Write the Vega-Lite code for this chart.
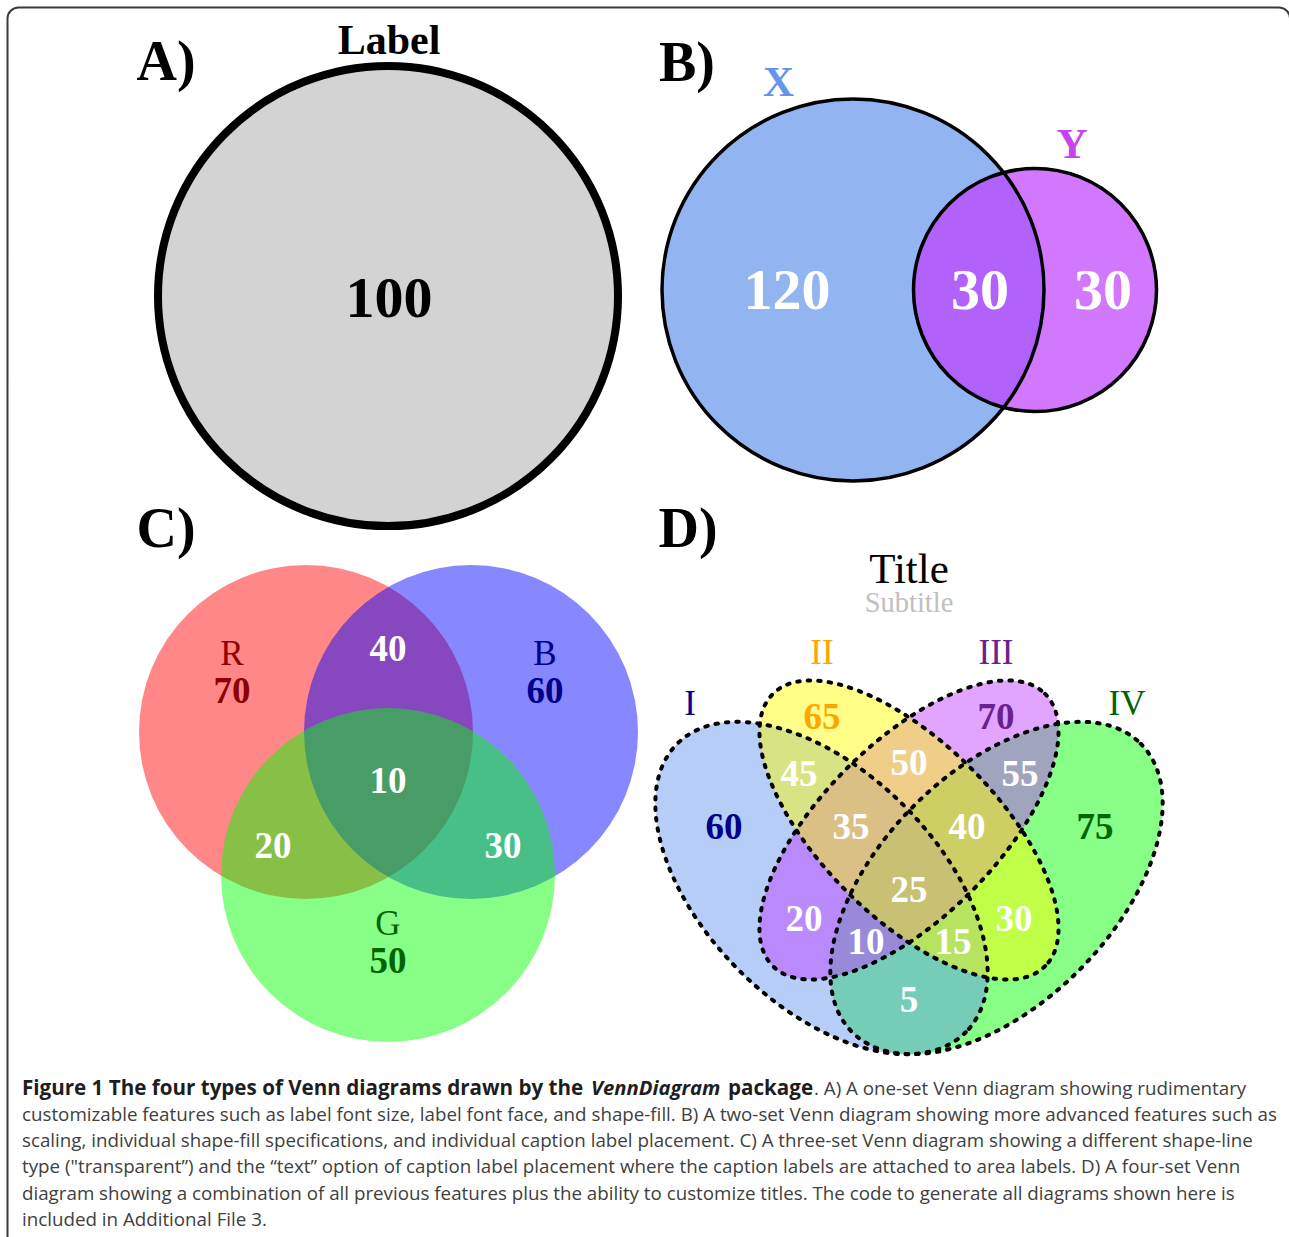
{
  "$schema": "https://vega.github.io/schema/vega-lite/v6.json",
  "width": 1289,
  "height": 1237,
  "autosize": {"type": "fit", "contains": "padding"},
  "padding": 0,
  "background": "white",
  "config": {"view": {"stroke": null}},
  "datasets": {
    "frame": [{"x": 7.5, "y": 7.5, "x2": 1290, "y2": 1262}],
    "circleA": [{"set": "A", "x": 388, "y": 296, "d": 460}],
    "circlesB": [
      {"set": "X", "x": 853, "y": 290, "d": 382},
      {"set": "Y", "x": 1035, "y": 290, "d": 243}
    ],
    "circlesC": [
      {"set": "R", "x": 306, "y": 732, "d": 334},
      {"set": "B", "x": 471, "y": 732, "d": 334},
      {"set": "G", "x": 388, "y": 875, "d": 334}
    ],
    "outerD": [
      {"set": "IV", "x": 996.5, "y": 888, "d": 408, "rot": -45},
      {"set": "I", "x": 821.5, "y": 888, "d": 408, "rot": 45}
    ],
    "innerD": [
      {"set": "III", "x": 909, "y": 830, "d": 385, "rot": -45},
      {"set": "II", "x": 909, "y": 830, "d": 385, "rot": 45}
    ],
    "letters": [
      {"t": "A)", "x": 166, "y": 80},
      {"t": "B)", "x": 687, "y": 81},
      {"t": "C)", "x": 166, "y": 547},
      {"t": "D)", "x": 688, "y": 547}
    ],
    "labelA": [{"t": "Label", "x": 389, "y": 54}],
    "countA": [{"t": "100", "x": 389, "y": 317}],
    "countB": [
      {"t": "120", "x": 787, "y": 309},
      {"t": "30", "x": 980, "y": 309},
      {"t": "30", "x": 1103, "y": 309}
    ],
    "catB": [
      {"t": "X", "set": "X", "x": 778.5, "y": 96},
      {"t": "Y", "set": "Y", "x": 1072, "y": 158}
    ],
    "catCD": [
      {"t": "R", "set": "R", "x": 232, "y": 665},
      {"t": "B", "set": "B", "x": 545, "y": 665},
      {"t": "G", "set": "G", "x": 388, "y": 935},
      {"t": "I", "set": "I", "x": 690, "y": 715},
      {"t": "II", "set": "II", "x": 822, "y": 664},
      {"t": "III", "set": "III", "x": 996, "y": 664},
      {"t": "IV", "set": "IV", "x": 1127, "y": 715}
    ],
    "countCD": [
      {"t": "70", "set": "R", "x": 232, "y": 702.5},
      {"t": "60", "set": "B", "x": 545, "y": 702.5},
      {"t": "50", "set": "G", "x": 388, "y": 972.5},
      {"t": "40", "set": "overlap", "x": 388, "y": 660.5},
      {"t": "10", "set": "overlap", "x": 388, "y": 792.5},
      {"t": "20", "set": "overlap", "x": 273, "y": 858},
      {"t": "30", "set": "overlap", "x": 503, "y": 858},
      {"t": "60", "set": "I", "x": 724, "y": 838.5},
      {"t": "65", "set": "II", "x": 822, "y": 728.5},
      {"t": "70", "set": "III", "x": 996, "y": 728.5},
      {"t": "75", "set": "IV", "x": 1095, "y": 838.5},
      {"t": "45", "set": "overlap", "x": 799, "y": 785.5},
      {"t": "50", "set": "overlap", "x": 909, "y": 774.5},
      {"t": "55", "set": "overlap", "x": 1020, "y": 785.5},
      {"t": "35", "set": "overlap", "x": 851, "y": 838.5},
      {"t": "40", "set": "overlap", "x": 967, "y": 838.5},
      {"t": "25", "set": "overlap", "x": 909, "y": 901.5},
      {"t": "20", "set": "overlap", "x": 804, "y": 930.5},
      {"t": "30", "set": "overlap", "x": 1014, "y": 930.5},
      {"t": "10", "set": "overlap", "x": 866, "y": 953.5},
      {"t": "15", "set": "overlap", "x": 953, "y": 953.5},
      {"t": "5", "set": "overlap", "x": 909, "y": 1011.5}
    ],
    "titleD": [{"t": "Title", "x": 909, "y": 583}],
    "subtitleD": [{"t": "Subtitle", "x": 909, "y": 612}],
    "capBold": [
      {"t": "Figure 1 The four types of Venn diagrams drawn by the", "x": 22, "y": 1095},
      {"t": "package", "x": 728, "y": 1095}
    ],
    "capItalic": [{"t": "VennDiagram", "x": 591, "y": 1095}],
    "capRegFirst": [{"t": ". A) A one-set Venn diagram showing rudimentary", "x": 814, "y": 1095}],
    "capReg": [
      {"t": "customizable features such as label font size, label font face, and shape-fill. B) A two-set Venn diagram showing more advanced features such as", "x": 22, "y": 1121},
      {"t": "scaling, individual shape-fill specifications, and individual caption label placement. C) A three-set Venn diagram showing a different shape-line", "x": 22, "y": 1147},
      {"t": "type (\"transparent”) and the “text” option of caption label placement where the caption labels are attached to area labels. D) A four-set Venn", "x": 22, "y": 1173},
      {"t": "diagram showing a combination of all previous features plus the ability to customize titles. The code to generate all diagrams shown here is", "x": 22, "y": 1200},
      {"t": "included in Additional File 3.", "x": 22, "y": 1226}
    ]
  },
  "encoding": {
    "x": {"field": "x", "type": "quantitative", "scale": {"domain": [0, 1289], "nice": false, "zero": false}, "axis": null},
    "y": {"field": "y", "type": "quantitative", "scale": {"domain": [0, 1237], "nice": false, "zero": false, "reverse": true}, "axis": null}
  },
  "layer": [
    {
      "data": {"name": "frame"},
      "mark": {"type": "rect", "clip": true, "fill": "transparent", "stroke": "#3a3a3a", "strokeWidth": 2, "cornerRadius": 11},
      "encoding": {"x2": {"field": "x2"}, "y2": {"field": "y2"}}
    },
    {
      "data": {"name": "circleA"},
      "mark": {"type": "point", "shape": "circle", "filled": true, "opacity": 1, "fillOpacity": 1, "stroke": "#000000", "strokeWidth": 8},
      "encoding": {
        "size": {"field": "d", "type": "quantitative", "scale": {"type": "pow", "exponent": 2, "domain": [0, 1000], "range": [0, 1000000]}, "legend": null},
        "fill": {"field": "set", "type": "nominal", "scale": {"domain": ["A", "X", "Y", "R", "B", "G", "I", "II", "III", "IV"], "range": ["#d3d3d3", "#6495ed", "#bf3eff", "#ff0000", "#0000ff", "#00ff00", "#6495ed", "#ffff00", "#bf3eff", "#00ff00"]}, "legend": null}
      }
    },
    {
      "data": {"name": "circlesB"},
      "mark": {"type": "point", "shape": "circle", "filled": true, "opacity": 1, "fillOpacity": 0.7, "strokeWidth": 0},
      "encoding": {
        "size": {"field": "d", "type": "quantitative", "legend": null},
        "fill": {"field": "set", "type": "nominal", "legend": null}
      }
    },
    {
      "data": {"name": "circlesB"},
      "mark": {"type": "point", "shape": "circle", "filled": false, "opacity": 1, "stroke": "#000000", "strokeWidth": 3.5},
      "encoding": {"size": {"field": "d", "type": "quantitative", "legend": null}}
    },
    {
      "data": {"name": "circlesC"},
      "mark": {"type": "point", "shape": "circle", "filled": true, "opacity": 1, "fillOpacity": 0.47, "strokeWidth": 0},
      "encoding": {
        "size": {"field": "d", "type": "quantitative", "legend": null},
        "fill": {"field": "set", "type": "nominal", "legend": null}
      }
    },
    {
      "data": {"name": "outerD"},
      "mark": {"type": "point", "shape": "M1,0C1,0.3156,0.5523,0.5714,0,0.5714C-0.5523,0.5714,-1,0.3156,-1,0C-1,-0.3156,-0.5523,-0.5714,0,-0.5714C0.5523,-0.5714,1,-0.3156,1,0Z", "filled": true, "opacity": 1, "fillOpacity": 0.47, "strokeWidth": 0},
      "encoding": {
        "size": {"field": "d", "type": "quantitative", "legend": null},
        "angle": {"field": "rot", "type": "quantitative", "scale": null},
        "fill": {"field": "set", "type": "nominal", "legend": null}
      }
    },
    {
      "data": {"name": "innerD"},
      "mark": {"type": "point", "shape": "M1,0C1,0.251,0.5523,0.4545,0,0.4545C-0.5523,0.4545,-1,0.251,-1,0C-1,-0.251,-0.5523,-0.4545,0,-0.4545C0.5523,-0.4545,1,-0.251,1,0Z", "filled": true, "opacity": 1, "fillOpacity": 0.47, "strokeWidth": 0},
      "encoding": {
        "size": {"field": "d", "type": "quantitative", "legend": null},
        "angle": {"field": "rot", "type": "quantitative", "scale": null},
        "fill": {"field": "set", "type": "nominal", "legend": null}
      }
    },
    {
      "data": {"name": "outerD"},
      "mark": {"type": "point", "shape": "M1,0C1,0.3156,0.5523,0.5714,0,0.5714C-0.5523,0.5714,-1,0.3156,-1,0C-1,-0.3156,-0.5523,-0.5714,0,-0.5714C0.5523,-0.5714,1,-0.3156,1,0Z", "filled": false, "opacity": 1, "stroke": "#000000", "strokeWidth": 4, "strokeDash": [2.5, 8], "strokeCap": "round"},
      "encoding": {
        "size": {"field": "d", "type": "quantitative", "legend": null},
        "angle": {"field": "rot", "type": "quantitative", "scale": null}
      }
    },
    {
      "data": {"name": "innerD"},
      "mark": {"type": "point", "shape": "M1,0C1,0.251,0.5523,0.4545,0,0.4545C-0.5523,0.4545,-1,0.251,-1,0C-1,-0.251,-0.5523,-0.4545,0,-0.4545C0.5523,-0.4545,1,-0.251,1,0Z", "filled": false, "opacity": 1, "stroke": "#000000", "strokeWidth": 4, "strokeDash": [2.5, 8], "strokeCap": "round"},
      "encoding": {
        "size": {"field": "d", "type": "quantitative", "legend": null},
        "angle": {"field": "rot", "type": "quantitative", "scale": null}
      }
    },
    {
      "data": {"name": "letters"},
      "mark": {"type": "text", "font": "Liberation Serif", "fontWeight": "bold", "fontSize": 56, "align": "center", "baseline": "alphabetic", "color": "#000000"},
      "encoding": {"text": {"field": "t"}}
    },
    {
      "data": {"name": "labelA"},
      "mark": {"type": "text", "font": "Liberation Serif", "fontWeight": "bold", "fontSize": 42, "align": "center", "baseline": "alphabetic", "color": "#000000"},
      "encoding": {"text": {"field": "t"}}
    },
    {
      "data": {"name": "countA"},
      "mark": {"type": "text", "font": "Liberation Serif", "fontWeight": "bold", "fontSize": 58, "align": "center", "baseline": "alphabetic", "color": "#000000"},
      "encoding": {"text": {"field": "t"}}
    },
    {
      "data": {"name": "countB"},
      "mark": {"type": "text", "font": "Liberation Serif", "fontWeight": "bold", "fontSize": 58, "align": "center", "baseline": "alphabetic", "color": "#ffffff"},
      "encoding": {"text": {"field": "t"}}
    },
    {
      "data": {"name": "catB"},
      "mark": {"type": "text", "font": "Liberation Serif", "fontWeight": "bold", "fontSize": 43, "align": "center", "baseline": "alphabetic"},
      "encoding": {
        "text": {"field": "t"},
        "color": {"field": "set", "type": "nominal", "scale": {"domain": ["X", "Y", "R", "B", "G", "I", "II", "III", "IV", "overlap"], "range": ["#6495ed", "#c444f0", "#8b0000", "#00008b", "#006400", "#00008b", "#ffa500", "#68228b", "#006400", "#ffffff"]}, "legend": null}
      }
    },
    {
      "data": {"name": "catCD"},
      "mark": {"type": "text", "font": "Liberation Serif", "fontSize": 35, "align": "center", "baseline": "alphabetic"},
      "encoding": {
        "text": {"field": "t"},
        "color": {"field": "set", "type": "nominal", "legend": null}
      }
    },
    {
      "data": {"name": "countCD"},
      "mark": {"type": "text", "font": "Liberation Serif", "fontWeight": "bold", "fontSize": 37, "align": "center", "baseline": "alphabetic"},
      "encoding": {
        "text": {"field": "t"},
        "color": {"field": "set", "type": "nominal", "legend": null}
      }
    },
    {
      "data": {"name": "titleD"},
      "mark": {"type": "text", "font": "Liberation Serif", "fontSize": 43, "align": "center", "baseline": "alphabetic", "color": "#000000"},
      "encoding": {"text": {"field": "t"}}
    },
    {
      "data": {"name": "subtitleD"},
      "mark": {"type": "text", "font": "Liberation Serif", "fontSize": 28.5, "align": "center", "baseline": "alphabetic", "color": "#c0c0c0"},
      "encoding": {"text": {"field": "t"}}
    },
    {
      "data": {"name": "capBold"},
      "mark": {"type": "text", "font": "Open Sans", "fontWeight": "bold", "fontSize": 20.6, "align": "left", "baseline": "alphabetic", "color": "#1e1e1e"},
      "encoding": {"text": {"field": "t"}}
    },
    {
      "data": {"name": "capItalic"},
      "mark": {"type": "text", "font": "Open Sans", "fontWeight": "bold", "fontStyle": "italic", "fontSize": 20.3, "align": "left", "baseline": "alphabetic", "color": "#1e1e1e"},
      "encoding": {"text": {"field": "t"}}
    },
    {
      "data": {"name": "capRegFirst"},
      "mark": {"type": "text", "font": "Open Sans", "fontSize": 18.75, "align": "left", "baseline": "alphabetic", "color": "#404040"},
      "encoding": {"text": {"field": "t"}}
    },
    {
      "data": {"name": "capReg"},
      "mark": {"type": "text", "font": "Open Sans", "fontSize": 18.75, "align": "left", "baseline": "alphabetic", "color": "#404040"},
      "encoding": {"text": {"field": "t"}}
    }
  ]
}
